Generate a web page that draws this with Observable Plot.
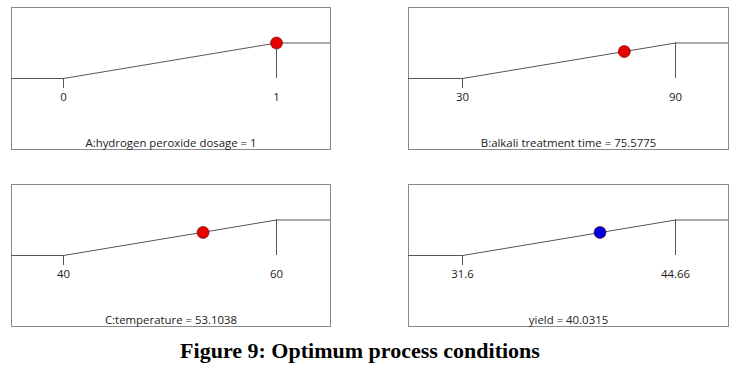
<!DOCTYPE html>
<html>
<head>
<meta charset="utf-8">
<script src="https://cdn.jsdelivr.net/npm/d3@7"></script>
<script src="https://cdn.jsdelivr.net/npm/@observablehq/plot@0.6"></script>
<style>
  html, body { margin: 0; padding: 0; background: #fff; }
  #wrap { position: relative; width: 739px; height: 375px; }
  .panel { position: absolute; }
  #caption { position: absolute; left: 0; width: 720px; top: 338px; text-align: center;
    font-family: "Liberation Serif", "Times New Roman", serif; font-weight: bold; font-size: 22px; color: #000; }
</style>
</head>
<body>
<div id="wrap">
  <div id="caption">Figure 9: Optimum process conditions</div>
</div>
<script>
const factorNames = ["A:hydrogen peroxide dosage", "B:alkali treatment time", "C:temperature", "yield"];
const lowValues = [0, 30, 40, 31.6];
const highValues = [1, 90, 60, 44.66];
const lowLabels = ["0", "30", "40", "31.6"];
const highLabels = ["1", "90", "60", "44.66"];
const optimumValues = [1, 75.5775, 53.1038, 40.0315];
const optimumLabels = ["1", "75.5775", "53.1038", "40.0315"];
const rampLevels = [1, 0.76, 0.65, 0.65];
const pointColors = ["#e60000", "#e60000", "#e60000", "#0000dd"];

const panelLeft = [10, 407, 10, 407];
const panelTop = [6, 6, 183, 183];
const panelWidth = [321, 322, 321, 322];
const rampRange = [[53, 266], [55, 268], [53, 266], [55, 268]];

const wrap = document.getElementById("wrap");
factorNames.forEach((name, i) => {
  const row = {
    low: lowValues[i], high: highValues[i], value: optimumValues[i], level: rampLevels[i],
    lowLabel: lowLabels[i], highLabel: highLabels[i], title: `${name} = ${optimumLabels[i]}`
  };
  const span = row.high - row.low;
  const chart = Plot.plot({
    width: panelWidth[i],
    height: 144,
    marginTop: 1, marginBottom: 1, marginLeft: 1, marginRight: 1,
    style: { fontFamily: "'Open Sans', sans-serif", fontSize: "11.4px", color: "#222", background: "transparent" },
    x: { domain: [row.low, row.high], range: rampRange[i], axis: null },
    y: { domain: [-2, 2], axis: null },
    marks: [
      Plot.frame({ stroke: "#8a8a8a" }),
      Plot.ruleY([row], { y: () => 0, x1: d => d.low - span, x2: d => d.low, stroke: "#555", clip: true }),
      Plot.ruleY([row], { y: () => 1, x1: d => d.high, x2: d => d.high + span, stroke: "#555", clip: true }),
      Plot.link([row], { x1: d => d.low, y1: () => 0, x2: d => d.high, y2: () => 1, stroke: "#555" }),
      Plot.ruleX([row], { x: d => d.low, y1: () => 0, y2: () => -0.28, stroke: "#555" }),
      Plot.ruleX([row], { x: d => d.high, y1: () => 1, y2: () => 0, stroke: "#555" }),
      Plot.text([row], { x: d => d.low, y: () => -0.54, text: d => d.lowLabel, fill: "#222" }),
      Plot.text([row], { x: d => d.high, y: () => -0.54, text: d => d.highLabel, fill: "#222" }),
      Plot.text([row], { frameAnchor: "bottom", dy: -3, text: d => d.title, fill: "#222" }),
      Plot.dot([row], { x: d => d.value, y: d => d.level, r: 6, fill: pointColors[i], stroke: "#600", strokeWidth: 0.6 })
    ]
  });
  chart.classList.add("panel");
  chart.style.left = panelLeft[i] + "px";
  chart.style.top = panelTop[i] + "px";
  wrap.appendChild(chart);
});
</script>
</body>
</html>
